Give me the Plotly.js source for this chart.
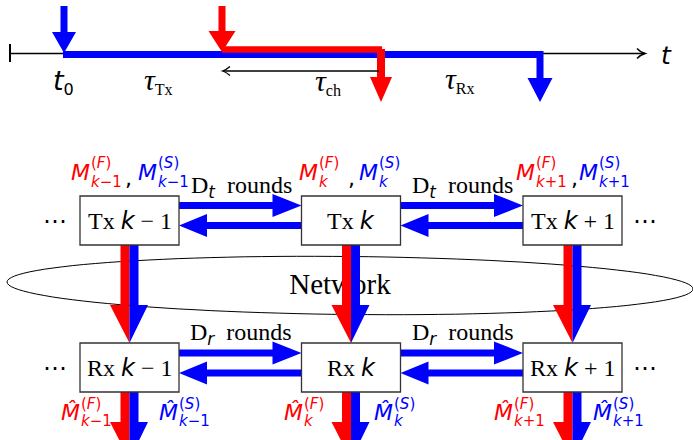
<!DOCTYPE html>
<html><head><meta charset="utf-8">
<script src="https://cdn.plot.ly/plotly-3.0.1.min.js"></script>
<style>html,body{margin:0;padding:0;background:#fff}</style>
</head><body><div id="chart" style="width:693px;height:440px"></div>
<script>
// ---------- content (labels) ----------
const stageNames   = ['Tx', 'Rx'];
const nodeSuffix   = ['−1', '', '+1'];        // k−1, k, k+1
const streams      = ['F', 'S'];               // fast / slow message parts
const roundSymbols = ['t', 'r'];               // D_t , D_r
const roundWord    = 'rounds';
const timeSymbols  = ['t', 'τ', 'τ', 'τ'];
const timeSubs     = ['0', 'Tx', 'ch', 'Rx'];
const axisLabel    = 't';
const networkLabel = 'Network';
const dotsLabel    = '⋯';

// ---------- geometry / style ----------
const RED = '#ff0000', BLUE = '#0000ff', BLACK = '#000000';
const SANS = 'DejaVu Sans', SERIF = 'Liberation Serif';
const colX = [129.5, 351, 572.5];     // box centres
const boxW = 99, boxH = 49;
const rowTop = [196, 343];            // Tx row, Rx row
const topRedX = [69, 297, 514], topBlueX = [136, 357, 577], commaX = [123, 346, 569];
const botRedX = [59, 282, 492], botBlueX = [157, 372, 591];
const timeX = [63, 158, 328, 460], timeY = [82, 80, 81, 79];

const shapes = [], anns = [];
function it(s){ return "<span style='font-family:DejaVu Sans;font-style:italic'>" + s + "</span>"; }
function poly(pts, color){
  shapes.push({type:'path', xref:'x', yref:'y', layer:'above',
    path: 'M' + pts.map(p => p[0] + ',' + p[1]).join('L') + 'Z',
    fillcolor: color, line:{width:0}});
}
function line(x0,y0,x1,y1,color,w,layer){
  shapes.push({type:'line', xref:'x', yref:'y', layer: layer||'above', x0,y0,x1,y1, line:{color, width:w}});
}
function downArrow(cx, y0, tip, sw, hw, hl, color){
  const yh = tip - hl;
  poly([[cx-sw/2,y0],[cx+sw/2,y0],[cx+sw/2,yh],[cx+hw/2,yh],[cx,tip],[cx-hw/2,yh],[cx-sw/2,yh]], color);
}
function hArrow(x0, tip, y, sw, hh, hl, color){
  const d = tip > x0 ? 1 : -1, xh = tip - d*hl;
  poly([[x0,y-sw/2],[xh,y-sw/2],[xh,y-hh/2],[tip,y],[xh,y+hh/2],[xh,y+sw/2],[x0,y+sw/2]], color);
}
// split red / blue column arrow (shaft + half heads)
function splitArrow(cx, y0, yh, tip){
  poly([[cx-9,y0],[cx,y0],[cx,tip],[cx-19.5,yh],[cx-9,yh]], RED);
  poly([[cx,y0],[cx+9,y0],[cx+9,yh],[cx+18.5,yh],[cx,tip]], BLUE);
}
function ann(x, y, text, size, color, family, xanchor){
  anns.push({x, y, xref:'x', yref:'y', text, showarrow:false,
    xanchor: xanchor||'center', yanchor:'middle',
    font:{family: family||SERIF, size, color: color||BLACK}});
}
function mLabel(x, y, color, hat, stream, suffix, dSup, dSub){
  ann(x, y, '<i>' + (hat ? 'M\u0302' : 'M') + '</i>', 22, color, SANS, 'left');
  ann(x + 20, y + dSup, '(<i>' + stream + '</i>)', 15, color, SANS, 'left');
  ann(x + 20, y + dSub, '<i>k</i>' + suffix, 15, color, SANS, 'left');
}

// ---------- timeline ----------
line(10, 53.5, 645, 53.5, BLACK, 1.5);
line(10, 44, 10, 62, BLACK, 2);
shapes.push({type:'path', xref:'x', yref:'y', layer:'above', path:'M637,48.5 Q640,52 645,53.5 Q640,55 637,58.5', line:{color:BLACK, width:1.5}});
line(63, 54.5, 541, 54.5, BLUE, 7);
line(222, 49.5, 382, 49.5, RED, 6.5);
downArrow(64, 6, 53, 7, 24, 21, BLUE);
downArrow(222, 6, 52, 7, 27, 21, RED);
downArrow(381, 49, 102, 8, 22, 25, RED);
downArrow(540, 51, 102, 7, 25, 24, BLUE);
line(223, 71, 379, 71, BLACK, 1.3);
shapes.push({type:'path', xref:'x', yref:'y', layer:'above', path:'M230,66.5 Q226,70 222.5,71 Q226,72 230,75.5', line:{color:BLACK, width:1.3}});
ann(666, 55, it(axisLabel), 25, BLACK, SANS);
timeSymbols.forEach((s, i) => {
  const head = i === 0 ? "<span style='font-size:27px'>" + it(s) + "</span>"
                       : "<span style='font-size:30px'><i>" + s + "</i></span>";
  ann(timeX[i], timeY[i], head + '<sub>' + timeSubs[i] + '</sub>', 23, BLACK, i === 0 ? SANS : SERIF);
});

// ---------- network ellipse ----------
(function(){
  const cx = 350, cy = 285.5, rx = 343, ry = 29, th = Math.atan2(7, 686);
  const pts = [];
  for (let k = 0; k <= 120; k++){
    const t = 2*Math.PI*k/120;
    pts.push([cx + rx*Math.cos(t)*Math.cos(th) - ry*Math.sin(t)*Math.sin(th),
              cy + rx*Math.cos(t)*Math.sin(th) + ry*Math.sin(t)*Math.cos(th)]);
  }
  shapes.push({type:'path', xref:'x', yref:'y', layer:'below',
    path:'M' + pts.map(p => p[0].toFixed(1) + ',' + p[1].toFixed(1)).join('L') + 'Z',
    line:{color:BLACK, width:1}, fillcolor:'rgba(0,0,0,0)'});
})();

// ---------- columns ----------
colX.forEach((cx, i) => {
  splitArrow(cx, rowTop[0] + boxH, 305, 343);
  splitArrow(cx, rowTop[1] + boxH, 422, 460);
});
// horizontal round arrows
rowTop.forEach((yt, r) => {
  for (let i = 0; i < colX.length - 1; i++){
    const xr = colX[i] + boxW/2, xl = colX[i+1] - boxW/2;
    hArrow(xr, xl, yt + 9.5 + (r ? 0.5 : 0), 7, 23, 29, BLUE);
    hArrow(xl, xr, yt + 29.5 + (r ? 0.5 : 0), 7, 23, 28, BLUE);
    ann((xr + xl)/2 + 1, yt - 9.5, 'D<sub>' + it(roundSymbols[r]) + '</sub>  ' + roundWord, 24, BLACK, SERIF);
  }
});
// boxes + labels
stageNames.forEach((st, r) => {
  colX.forEach((cx, i) => {
    shapes.push({type:'rect', xref:'x', yref:'y', layer:'above',
      x0: cx - boxW/2, x1: cx + boxW/2, y0: rowTop[r], y1: rowTop[r] + boxH,
      fillcolor:'#ffffff', line:{color:'#333333', width:1.3}});
    const suf = nodeSuffix[i].replace(/([−+])/, ' $1 ');
    ann(cx, rowTop[r] + boxH/2, st + ' ' + it('k') + suf, 24, BLACK, SERIF);
  });
  ann(55, rowTop[r] + 24.5, dotsLabel, 24, BLACK, SANS);
  ann(645, rowTop[r] + 24.5, dotsLabel, 24, BLACK, SANS);
});
// message labels
colX.forEach((cx, i) => {
  mLabel(topRedX[i], 172, RED, false, streams[0], nodeSuffix[i], -9, 10);
  ann(commaX[i], 178, ',', 22, BLACK, SANS, 'left');
  mLabel(topBlueX[i], 172, BLUE, false, streams[1], nodeSuffix[i], -9, 10);
  mLabel(botRedX[i], 412, RED, true, streams[0], nodeSuffix[i], -8, 9);
  mLabel(botBlueX[i], 412, BLUE, true, streams[1], nodeSuffix[i], -8, 9);
});

const traces = [{type:'scatter', mode:'text', x:[340], y:[287], text:[networkLabel],
  textfont:{family:SERIF, size:29, color:BLACK}, hoverinfo:'skip', showlegend:false}];

Plotly.newPlot('chart', traces, {
  width:693, height:440, margin:{l:0,r:0,t:0,b:0},
  paper_bgcolor:'#ffffff', plot_bgcolor:'#ffffff', showlegend:false,
  xaxis:{range:[0,693], visible:false, fixedrange:true},
  yaxis:{range:[440,0], visible:false, fixedrange:true},
  shapes, annotations: anns
}, {displayModeBar:false, staticPlot:true});
</script></body></html>
